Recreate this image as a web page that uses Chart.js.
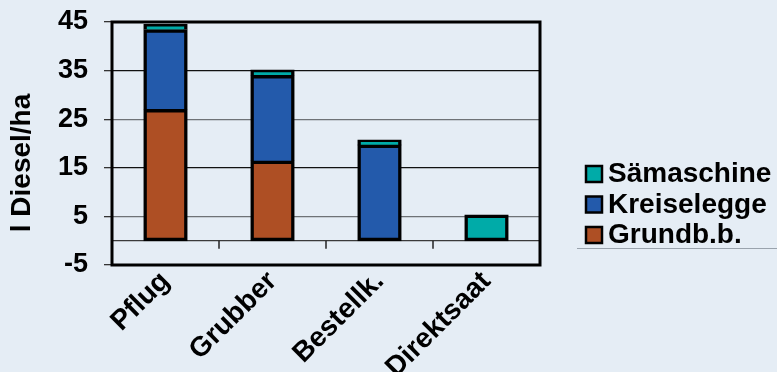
<!DOCTYPE html>
<html>
<head>
<meta charset="utf-8">
<script src="https://cdn.jsdelivr.net/npm/chart.js@4"></script>
<style>
  html, body { margin: 0; padding: 0; background: #E5EDF5; }
  #wrap { position: relative; width: 777px; height: 372px; }
  canvas { display: block; }
</style>
</head>
<body>
<div id="wrap"><canvas id="c" width="777" height="372"></canvas></div>
<script>
// ---- data ----
const categories = ['Pflug', 'Grubber', 'Bestellk.', 'Direktsaat'];
const grundbb = [27.0, 16.4, 0, 0];
const kreiselegge = [16.4, 17.6, 19.7, 0];
const saemaschine = [1.1, 1.1, 1.0, 5.3];
const yTicks = [-5, 5, 15, 25, 35, 45];
const yTitle = 'l Diesel/ha';

const COL_GRUND = '#AE4F24';
const COL_KREISEL = '#235AAB';
const COL_SAE = '#00ABA8';
const BG = '#E5EDF5';
const FONT = '"Liberation Sans", Arial, Helvetica, sans-serif';

const seriesOrder = [grundbb, kreiselegge, saemaschine];
function lowestSkip(ctx) {
  const di = ctx.datasetIndex, i = ctx.dataIndex;
  for (let k = 0; k < di; k++) {
    if (seriesOrder[k][i]) return 'bottom';
  }
  return false;
}

const bgPlugin = {
  id: 'bg',
  beforeDraw(chart) {
    const c = chart.ctx;
    c.save();
    c.fillStyle = BG;
    c.fillRect(0, 0, chart.width, chart.height);
    c.restore();
  }
};

const zeroPlugin = {
  id: 'zero',
  beforeDatasetsDraw(chart) {
    const c = chart.ctx, a = chart.chartArea;
    const y0 = chart.scales.y.getPixelForValue(0);
    const xs = chart.scales.x;
    c.save();
    c.strokeStyle = '#3a3a3a';
    c.lineWidth = 1.2;
    c.beginPath();
    c.moveTo(a.left, y0);
    c.lineTo(a.right, y0);
    c.stroke();
    c.lineWidth = 1.5;
    c.strokeStyle = '#222';
    for (let i = 0; i < categories.length - 1; i++) {
      const xm = (xs.getPixelForValue(i) + xs.getPixelForValue(i + 1)) / 2;
      c.beginPath();
      c.moveTo(xm, y0);
      c.lineTo(xm, y0 + 8);
      c.stroke();
    }
    c.restore();
  }
};

const framePlugin = {
  id: 'frame',
  afterDatasetsDraw(chart) {
    const c = chart.ctx, a = chart.chartArea;
    c.save();
    c.strokeStyle = '#000';
    c.lineWidth = 3;
    c.strokeRect(a.left, a.top, a.right - a.left, a.bottom - a.top);
    c.restore();
  }
};

const legendPlugin = {
  id: 'customLegend',
  afterDraw(chart) {
    const c = chart.ctx;
    const ds = chart.data.datasets.slice().reverse();
    const x0 = 586, baseline0 = 182, step = 30.5, box = 16;
    c.save();
    c.font = 'bold 28px ' + FONT;
    c.textBaseline = 'alphabetic';
    c.textAlign = 'left';
    ds.forEach((d, k) => {
      const bl = baseline0 + k * step;
      c.fillStyle = d.backgroundColor;
      c.fillRect(x0, bl - box, box, box);
      c.strokeStyle = '#000';
      c.lineWidth = 2.5;
      c.strokeRect(x0, bl - box, box, box);
      c.fillStyle = '#000';
      c.fillText(d.label, x0 + 22, bl);
    });
    c.strokeStyle = '#9AA3AD';
    c.lineWidth = 1;
    c.beginPath();
    c.moveTo(577, 248.5);
    c.lineTo(777, 248.5);
    c.stroke();
    c.restore();
  }
};

const titlePlugin = {
  id: 'yTitle',
  afterDraw(chart) {
    const c = chart.ctx;
    c.save();
    c.translate(22, 163);
    c.rotate(-Math.PI / 2);
    c.font = 'bold 28px ' + FONT;
    c.fillStyle = '#000';
    c.textAlign = 'center';
    c.textBaseline = 'middle';
    c.fillText(yTitle, 0, 0);
    c.restore();
  }
};

new Chart(document.getElementById('c'), {
  type: 'bar',
  data: {
    labels: categories,
    datasets: [
      { label: 'Grundb.b.', data: grundbb, backgroundColor: COL_GRUND },
      { label: 'Kreiselegge', data: kreiselegge, backgroundColor: COL_KREISEL },
      { label: 'Sämaschine', data: saemaschine, backgroundColor: COL_SAE }
    ]
  },
  options: {
    responsive: false,
    animation: false,
    layout: { padding: { top: 22, right: 237, left: 0, bottom: 0 } },
    datasets: {
      bar: {
        borderColor: '#000',
        borderWidth: 3.5,
        borderSkipped: lowestSkip,
        barPercentage: 0.405,
        categoryPercentage: 1.0,
        inflateAmount: 0.5
      }
    },
    plugins: {
      legend: { display: false },
      tooltip: { enabled: false }
    },
    scales: {
      x: {
        stacked: true,
        grid: { display: false, drawTicks: false },
        border: { display: false },
        ticks: {
          minRotation: 45,
          maxRotation: 45,
          padding: 0,
          color: '#000',
          font: { family: FONT, size: 28, weight: 'bold' }
        },
        afterFit(s) { s.height = 107; }
      },
      y: {
        stacked: true,
        min: -5,
        max: 45,
        afterBuildTicks(s) { s.ticks = yTicks.map(v => ({ value: v })); },
        grid: {
          color: ctx => (ctx.tick && (ctx.tick.value === 35 || ctx.tick.value === 15)) ? '#111' : '#6E7276',
          lineWidth: 1.3,
          tickLength: 8,
          tickColor: '#333'
        },
        border: { display: false },
        ticks: {
          padding: 16,
          color: '#000',
          font: { family: FONT, size: 27, weight: 'bold' }
        },
        afterFit(s) { s.width = 112; s.paddingTop = 0; s.paddingBottom = 0; }
      }
    }
  },
  plugins: [bgPlugin, zeroPlugin, framePlugin, legendPlugin, titlePlugin]
});
</script>
</body>
</html>
